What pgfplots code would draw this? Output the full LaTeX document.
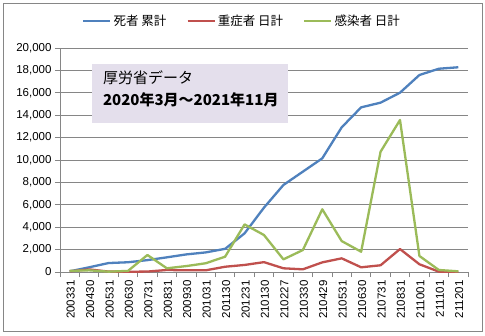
\documentclass[border=0pt]{standalone}
\usepackage{fontspec}
\setmainfont{Liberation Sans}
\newfontfamily\jp{Noto Sans CJK JP}
\usepackage{pgfplots}
\pgfplotsset{compat=1.18}
\definecolor{cblue}{HTML}{4F81BD}
\definecolor{cred}{HTML}{C0504D}
\definecolor{cgreen}{HTML}{9BBB59}
\definecolor{boxc}{HTML}{E4DFEC}
\definecolor{gridc}{HTML}{868686}
\begin{document}
\begin{tikzpicture}
\path[use as bounding box] (0pt,0pt) rectangle (485pt,335pt);
\fill[white] (0pt,0pt) rectangle (485pt,335pt);
\draw[gridc, line width=0.8pt] (3pt,4pt) rectangle (482pt,332pt);
\begin{axis}[
  at={(60pt,63pt)}, anchor=south west,
  scale only axis, width=408pt, height=224pt,
  xmin=-0.5, xmax=20.5, ymin=0, ymax=20000,
  clip=false,
  axis x line*=bottom, axis y line*=left,
  axis line style={gridc, line width=0.8pt, -},
  xtick={0,...,20},
  xticklabels={200331,200430,200531,200630,200731,200831,200930,201031,201130,201231,210130,210227,210330,210429,210531,210630,210731,210831,211001,211101,211201},
  major x tick style={draw=none},
  minor xtick={-0.5,0.5,...,20.5},
  minor x tick style={gridc, line width=0.8pt},
  ytick={0,2000,...,20000},
  y tick style={gridc, line width=0.8pt},
  major tick length=5pt, minor tick length=5pt,
  tick align=outside,
  ymajorgrids,
  grid style={gridc, line width=0.8pt},
  scaled y ticks=false,
  /pgf/number format/.cd, 1000 sep={,}, assume math mode=true,
  /pgfplots/.cd,
  tick label style={font=\fontsize{11.5}{13}\selectfont, text=black},
  xticklabel style={rotate=90, anchor=east, yshift=-1pt},
  legend style={at={(0.446,1.12)}, anchor=center, draw=none, fill=none,
    legend columns=3, font=\jp\fontsize{12.5}{14}\selectfont,
    /tikz/every even column/.append style={column sep=18pt}},
  legend image code/.code={\draw[#1, line width=2.5pt] (0pt,0pt) -- (27pt,0pt);},
  every axis plot/.append style={line width=2.3pt, line join=round, mark=none},
]
\addplot[cblue] coordinates {
(0,60) (1,420) (2,800) (3,870) (4,1060) (5,1310) (6,1570) (7,1750) (8,2070) (9,3450) (10,5750) (11,7770) (12,8960) (13,10150) (14,12920) (15,14700) (16,15120) (17,16010) (18,17590) (19,18150) (20,18280)};
\addlegendentry{死者 累計}
\addplot[cred] coordinates {
(0,60) (1,230) (2,40) (3,20) (4,40) (5,180) (6,150) (7,150) (8,470) (9,630) (10,880) (11,330) (12,240) (13,860) (14,1220) (15,420) (16,600) (17,2050) (18,690) (19,30) (20,20)};
\addlegendentry{重症者 日計}
\addplot[cgreen] coordinates {
(0,100) (1,150) (2,30) (3,100) (4,1520) (5,330) (6,530) (7,780) (8,1370) (9,4250) (10,3300) (11,1130) (12,1960) (13,5600) (14,2760) (15,1810) (16,10740) (17,13570) (18,1430) (19,180) (20,60)};
\addlegendentry{感染者 日計}
\node[fill=boxc, anchor=north west, inner sep=0pt,
  minimum width=196pt, minimum height=59pt] (box)
  at (rel axis cs:0.078,0.929) {};
\node[anchor=base west, inner sep=0pt, xshift=11pt, yshift=-20pt]
  at (box.north west) {\jp\fontsize{15}{18}\selectfont 厚労省データ};
\node[anchor=base west, inner sep=0pt, xshift=11pt, yshift=-42pt]
  at (box.north west) {\jp\fontsize{15}{18}\selectfont\bfseries 2020年3月～2021年11月};
\end{axis}
\end{tikzpicture}
\end{document}
